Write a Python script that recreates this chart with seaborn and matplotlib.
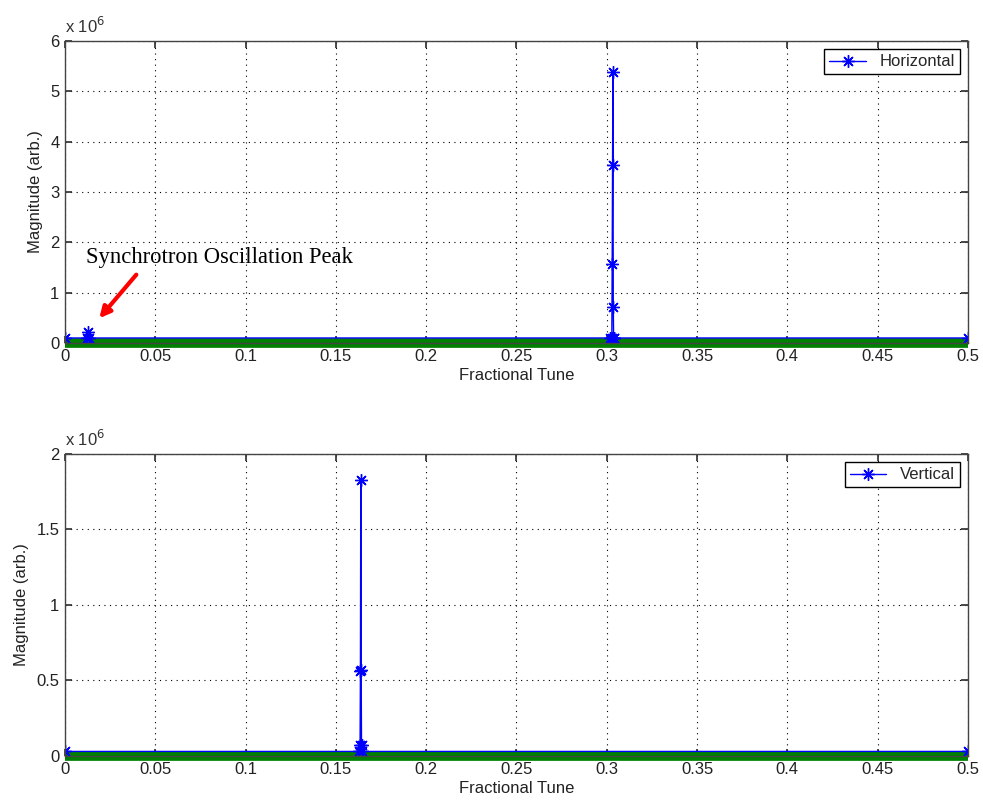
import matplotlib
matplotlib.use("Agg")
import matplotlib.pyplot as plt
import seaborn as sns
import pandas as pd
from matplotlib.ticker import FuncFormatter, MultipleLocator

sns.set_theme(style="white")
plt.rcParams['font.family'] = ['Liberation Sans', 'DejaVu Sans']

# Horizontal spectrum (blue, with asterisk markers)
h_tune = [0.0, 0.0120, 0.0127, 0.0134, 0.3020, 0.3028, 0.3030, 0.3032, 0.3034, 0.3036, 0.3038, 0.3042, 0.5]
h_mag = [1e5, 1e5, 2.1e5, 1e5, 1e5, 1e5, 1.57e6, 3.53e6, 5.38e6, 7.2e5, 1.0e5, 1e5, 1e5]

# Vertical spectrum
v_tune = [0.0, 0.1630, 0.1634, 0.1636, 0.1638, 0.1640, 0.1642, 0.1646, 0.5]
v_mag = [3e4, 3e4, 7e4, 5.6e5, 1.83e6, 5.7e5, 7e4, 3e4, 3e4]

# Green baseline series
g_tune = [0.0, 0.5]
g_mag = [0.0, 0.0]

h_df = pd.DataFrame({"tune": h_tune, "mag": h_mag})
v_df = pd.DataFrame({"tune": v_tune, "mag": v_mag})
g_df = pd.DataFrame({"tune": g_tune, "mag": g_mag})

fig = plt.figure(figsize=(9.83, 8.02), dpi=100)
ax1 = fig.add_axes([0.0661, 0.5723, 0.9186, 0.3766])
ax2 = fig.add_axes([0.0661, 0.0574, 0.9186, 0.3766])

star = (8, 2, 0)

def style(ax, ymax, ystep):
    sns.lineplot(data=g_df, x="tune", y="mag", ax=ax, color="#008000", lw=7,
                 sort=False, estimator=None, clip_on=False, zorder=2,
                 solid_capstyle="butt")
    ax.set_xlim(0, 0.5)
    ax.set_ylim(0, ymax)
    ax.xaxis.set_major_locator(MultipleLocator(0.05))
    ax.yaxis.set_major_locator(MultipleLocator(ystep))
    ax.xaxis.set_major_formatter(FuncFormatter(lambda v, p: f"{v:g}"))
    ax.yaxis.set_major_formatter(FuncFormatter(lambda v, p: f"{v/1e6:g}"))
    ax.grid(True, color="black", linestyle=(0, (1, 4)), linewidth=0.8)
    ax.tick_params(direction="in", length=5, labelsize=12, colors="#333333",
                   top=True, right=True, bottom=True, left=True, pad=4)
    ax.tick_params(labelcolor="#222222")
    for s in ax.spines.values():
        s.set_color("#444444")
        s.set_linewidth(1.0)
        s.set_zorder(5)
    ax.set_xlabel("Fractional Tune", fontsize=12, labelpad=3, color="#222222")
    ax.set_ylabel("Magnitude (arb.)", fontsize=12, labelpad=5, color="#222222")
    ax.text(0.0, 1.015, "x 10$^6$", transform=ax.transAxes, fontsize=12,
            ha="left", va="bottom", color="#333333")
    leg = ax.legend(loc="upper right", fontsize=12, frameon=True, fancybox=False,
                    edgecolor="black", framealpha=1, borderpad=0.3,
                    borderaxespad=0, handlelength=2.2,
                    bbox_to_anchor=(0.991, 0.972))
    leg.get_frame().set_linewidth(1.0)

sns.lineplot(data=h_df, x="tune", y="mag", ax=ax1, color="blue", lw=1.0,
             marker=star, markersize=9, markeredgecolor="blue", markeredgewidth=1.0,
             sort=False, estimator=None, label="Horizontal", zorder=3)
style(ax1, 6e6, 1e6)

sns.lineplot(data=v_df, x="tune", y="mag", ax=ax2, color="blue", lw=1.0,
             marker=star, markersize=9, markeredgecolor="blue", markeredgewidth=1.0,
             sort=False, estimator=None, label="Vertical", zorder=3)
style(ax2, 2e6, 0.5e6)

ax1.annotate("", xy=(0.0180, 0.45e6), xytext=(0.0405, 1.40e6),
             arrowprops=dict(arrowstyle="-|>", color="red", lw=3, mutation_scale=16))
ax1.text(0.0118, 1.69e6, "Synchrotron Oscillation Peak", fontsize=16.3,
         family="Liberation Serif", ha="left", va="center", color="black")

fig.savefig("out.png", dpi=100, facecolor="white")
